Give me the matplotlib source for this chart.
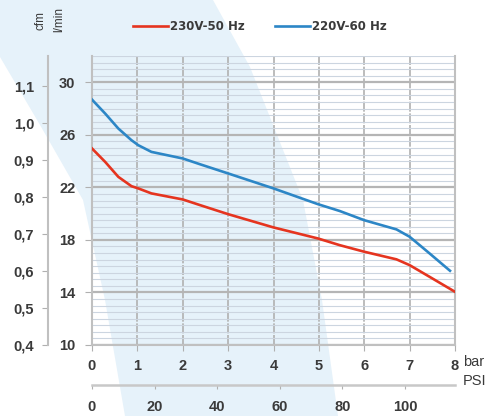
import matplotlib.pyplot as plt
import numpy as np
from matplotlib.patches import Polygon
from matplotlib.ticker import MultipleLocator, FixedLocator, FuncFormatter

plt.rcParams['font.family'] = ['Liberation Sans', 'DejaVu Sans']

# data (bar -> l/min)
bar_230 = [0, 0.29, 0.58, 0.87, 1.02, 1.31, 2.0, 2.38, 3.0, 4.0, 4.98, 5.46, 6.0, 6.71, 7.0, 7.44, 8.0]
lmin_230 = [24.96, 23.94, 22.80, 22.09, 21.92, 21.54, 21.08, 20.65, 19.96, 18.95, 18.11, 17.6,
            17.10, 16.52, 16.08, 15.19, 14.05]
bar_220 = [0, 0.29, 0.58, 0.87, 1.02, 1.31, 2.0, 2.38, 3.0, 4.0, 4.98, 5.46, 6.0, 6.71, 7.0, 7.44, 7.89]
lmin_220 = [28.68, 27.62, 26.48, 25.59, 25.21, 24.70, 24.20, 23.76, 23.06, 21.92, 20.72, 20.2,
            19.5, 18.80, 18.24, 16.97, 15.65]
lmin_ticks = [10, 14, 18, 22, 26, 30]
cfm_ticks = [0.4, 0.5, 0.6, 0.7, 0.8, 0.9, 1.0, 1.1]
psi_ticks = [0, 20, 40, 60, 80, 100]

W, H = 499, 416
fig = plt.figure(figsize=(W / 100, H / 100), dpi=100)

# background swoosh
bg = fig.add_axes([0, 0, 1, 1], zorder=-5)
bg.set_xlim(0, W)
bg.set_ylim(H, 0)
bg.axis('off')
band = [(0, 0), (213, 0), (250, 67), (303, 200), (322, 300), (338, 416),
        (125, 416), (105, 300), (83, 200), (40, 125), (0, 57)]
bg.add_patch(Polygon(band, closed=True, facecolor='#e6f2fa', edgecolor='none'))

txt = '#3a3a3a'
tsize = 10.5
L, R, B, T = 92, 455, 345, 56
pos = [L / W, 1 - B / H, (R - L) / W, (B - T) / H]

ax = fig.add_axes(pos)
ax.patch.set_alpha(0)
ax.set_xlim(0, 8)
ax.set_ylim(10, 32)

ax.yaxis.set_major_locator(FixedLocator(lmin_ticks))
ax.yaxis.set_minor_locator(MultipleLocator(0.5))
ax.xaxis.set_major_locator(MultipleLocator(1))
ax.grid(which='minor', axis='y', color='#ccd5e0', lw=0.8, zorder=0)
ax.grid(which='major', axis='y', color='#b5b5b5', lw=1.6, zorder=0)
ax.grid(which='major', axis='x', color='#b0b0b0', lw=1.2, ls=(0, (6, 1)), zorder=0)
ax.set_axisbelow(True)

ax.spines['top'].set_visible(False)
for s in ['left', 'bottom', 'right']:
    ax.spines[s].set_color('#c0c0c0')
    ax.spines[s].set_linewidth(1.5)

ax.tick_params(which='minor', length=0)
ax.tick_params(axis='y', which='major', length=5, color='#b0b0b0', labelsize=tsize,
               labelcolor=txt, pad=7)
ax.tick_params(axis='x', which='major', length=4, color='#b0b0b0', labelsize=tsize,
               labelcolor=txt, pad=6)
for lab in ax.get_xticklabels() + ax.get_yticklabels():
    lab.set_fontweight('bold')

ax.plot(bar_230, lmin_230, color='#e5341f', lw=1.9, label='230V-50 Hz', zorder=3)
ax.plot(bar_220, lmin_220, color='#2c86c6', lw=1.9, label='220V-60 Hz', zorder=3)

# cfm axis on the left
top_cfm = 1.1 + (86 - T) * 0.7 / (B - 86)
axc = fig.add_axes(pos)
axc.patch.set_alpha(0)
axc.set_ylim(0.4, top_cfm)
axc.set_xticks([])
for s in ['top', 'right', 'bottom']:
    axc.spines[s].set_visible(False)
axc.spines['left'].set_position(('axes', -(L - 48) / (R - L)))
axc.spines['left'].set_color('#c0c0c0')
axc.spines['left'].set_linewidth(1.5)
axc.yaxis.set_major_locator(FixedLocator(cfm_ticks))
axc.yaxis.set_major_formatter(FuncFormatter(lambda v, p: f'{v:.1f}'.replace('.', ',')))
axc.tick_params(axis='y', length=4, color='#b0b0b0', labelsize=tsize, labelcolor=txt, pad=6)
for lab in axc.get_yticklabels():
    lab.set_fontweight('bold')

# PSI axis below
sec = ax.secondary_xaxis(-(385 - B) / (B - T), functions=(lambda b: b * 14.5, lambda p: p / 14.5))
sec.xaxis.set_major_locator(FixedLocator(psi_ticks))
sec.spines['bottom'].set_color('#c8c8c8')
sec.spines['bottom'].set_linewidth(1.8)
sec.tick_params(length=3, color='#b0b0b0', labelsize=tsize, labelcolor=txt, pad=8)
for lab in sec.get_xticklabels():
    lab.set_fontweight('bold')

fig.text(463 / W, 1 - 362 / H, 'bar', fontsize=10.5, color=txt, va='center', ha='left')
fig.text(463 / W, 1 - 381 / H, 'PSI', fontsize=10.5, color=txt, va='center', ha='left')
fig.text(41 / W, 1 - 20 / H, 'cfm', fontsize=8.5, color=txt, rotation=90, ha='center', va='center')
fig.text(59 / W, 1 - 20 / H, 'l/min', fontsize=8.5, color=txt, rotation=90, ha='center', va='center')

leg = ax.legend(loc='center', bbox_to_anchor=(260 / W, 1 - 27 / H), bbox_transform=fig.transFigure,
                ncol=2, frameon=False, handlelength=2.9, handletextpad=0.2, columnspacing=2.6,
                prop={'family': 'DejaVu Sans', 'size': 8.5, 'weight': 'bold'})
for t in leg.get_texts():
    t.set_color(txt)

fig.savefig('out.png', dpi=100)
